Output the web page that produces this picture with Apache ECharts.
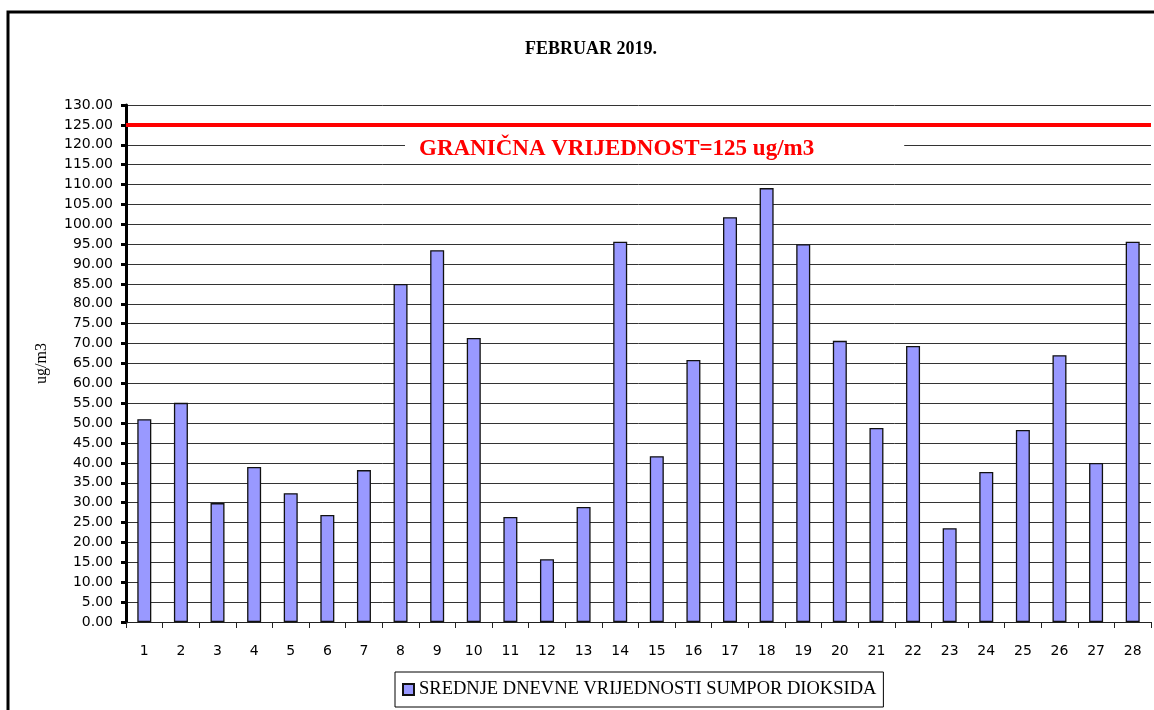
<!DOCTYPE html>
<html>
<head>
<meta charset="utf-8">
<script src="https://cdn.jsdelivr.net/npm/echarts@6/dist/echarts.min.js"></script>
<style>
  html, body { margin: 0; padding: 0; background: #fff; }
  #chart { width: 1154px; height: 710px; }
</style>
</head>
<body>
<div id="chart"></div>
<script>
// days of February
const days = ['1', '2', '3', '4', '5', '6', '7', '8', '9', '10', '11', '12', '13', '14',
  '15', '16', '17', '18', '19', '20', '21', '22', '23', '24', '25', '26', '27', '28']
// daily average SO2, ug/m3
const so2Values = [51.0, 55.1, 29.9, 39.0, 32.4, 26.9, 38.2, 85.0, 93.5, 71.4, 26.4, 15.8, 28.9, 95.6,
  41.7, 65.9, 101.8, 109.1, 95.0, 70.7, 48.8, 69.4, 23.6, 37.7, 48.3, 67.1, 40.0, 95.6]
const limitValue = 125
const seriesName = 'SREDNJE DNEVNE VRIJEDNOSTI SUMPOR DIOKSIDA'

const chart = echarts.init(document.getElementById('chart'))

chart.setOption({
  animation: false,
  title: {
    text: 'FEBRUAR 2019.',
    left: 586,
    top: 35,
    textAlign: 'center',
    textStyle: {
      fontFamily: 'Liberation Serif',
      fontSize: 18,
      fontWeight: 'bold',
      color: '#000'
    }
  },
  graphic: [
    {
      type: 'rect',
      shape: { x: 8, y: 12, width: 1170, height: 730 },
      style: { fill: 'none', stroke: '#000', lineWidth: 3 },
      silent: true
    },
    {
      type: 'text',
      left: 405,
      top: 136,
      z: 10,
      style: {
        text: 'GRANIČNA VRIJEDNOST=125 ug/m3',
        fontFamily: 'Liberation Serif',
        fontSize: 23,
        fontWeight: 'bold',
        fill: '#ff0000',
        backgroundColor: '#fff',
        padding: [2, 90, 2, 14]
      }
    }
  ],
  legend: {
    data: [seriesName],
    left: 395,
    top: 672,
    icon: 'rect',
    itemWidth: 11,
    itemHeight: 11,
    itemGap: 6,
    padding: [8, 7, 8, 7],
    borderColor: '#000',
    borderWidth: 1,
    textStyle: {
      fontFamily: 'Liberation Serif',
      fontSize: 18.5,
      color: '#000'
    }
  },
  grid: {
    left: 126,
    right: 3,
    top: 105,
    bottom: 88,
    containLabel: false
  },
  xAxis: {
    type: 'category',
    data: days,
    axisLine: { lineStyle: { color: '#222', width: 1 } },
    axisTick: { show: true, length: 6, lineStyle: { color: '#222' } },
    axisLabel: {
      margin: 22,
      fontFamily: 'DejaVu Sans',
      fontSize: 14,
      color: '#000'
    }
  },
  yAxis: {
    type: 'value',
    name: 'ug/m3',
    nameLocation: 'middle',
    nameGap: 76,
    nameRotate: 90,
    nameTextStyle: {
      fontFamily: 'Liberation Serif',
      fontSize: 16,
      color: '#000'
    },
    min: 0,
    max: 130,
    interval: 5,
    axisLine: { show: true, lineStyle: { color: '#000', width: 3 } },
    axisTick: { show: true, length: 5, lineStyle: { color: '#000', width: 3 } },
    axisLabel: {
      margin: 13,
      fontFamily: 'DejaVu Sans',
      fontSize: 14,
      color: '#000',
      formatter: v => v.toFixed(2)
    },
    splitLine: { lineStyle: { color: '#333', width: 1 } }
  },
  series: [{
    name: seriesName,
    type: 'bar',
    data: so2Values,
    barWidth: 14,
    itemStyle: {
      color: '#9999ff',
      borderColor: '#111',
      borderWidth: 1.3
    },
    markLine: {
      silent: true,
      symbol: 'none',
      label: { show: false },
      lineStyle: { color: '#ff0000', width: 4, type: 'solid' },
      data: [{ yAxis: limitValue }]
    }
  }]
})
</script>
</body>
</html>
